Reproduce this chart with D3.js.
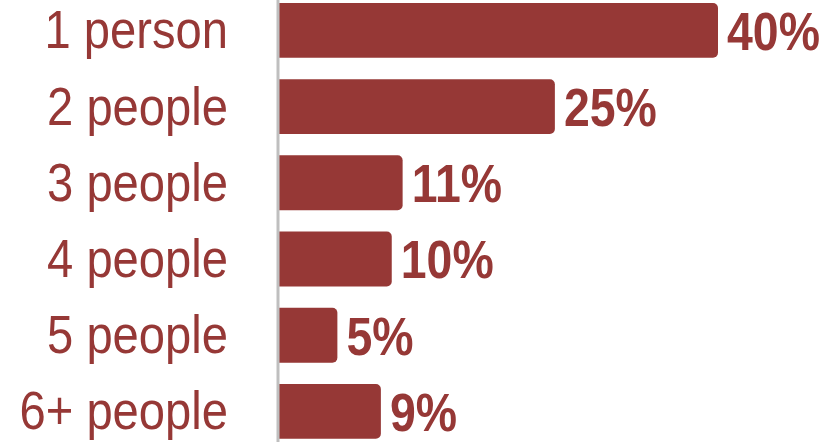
<!DOCTYPE html>
<html>
<head>
<meta charset="utf-8">
<script src="https://cdn.jsdelivr.net/npm/d3@7"></script>
<style>
  html, body { margin: 0; padding: 0; background: #fff; }
  svg { display: block; }
</style>
</head>
<body>
<svg id="chart" width="838" height="442"></svg>
<script>
// Household size distribution
const categories = ["1 person", "2 people", "3 people", "4 people", "5 people", "6+ people"];
const shares = [40, 25, 11, 10, 5, 9];
const valueLabels = ["40%", "25%", "11%", "10%", "5%", "9%"];

const W = 838, H = 442;
const barColor = "#963836";
const axisX = 278;
const labelSqueeze = 0.89; // horizontal squeeze for a condensed look
const valueSqueeze = 0.86;

const svg = d3.select("#chart");

const x = d3.scaleLinear().domain([0, 40]).range([283, 718]);
const y = d3.scaleBand()
  .domain(categories)
  .range([-7.7, 449.5])
  .paddingInner(0.28)
  .paddingOuter(0.14);

// Bars with rounded right-hand corners
const r = 5;
function barPath(d, i) {
  const x0 = axisX, x1 = x(shares[i]);
  const y0 = y(d), h = y.bandwidth();
  const p = d3.path();
  p.moveTo(x0, y0);
  p.lineTo(x1 - r, y0);
  p.arcTo(x1, y0, x1, y0 + r, r);
  p.lineTo(x1, y0 + h - r);
  p.arcTo(x1, y0 + h, x1 - r, y0 + h, r);
  p.lineTo(x0, y0 + h);
  p.closePath();
  return p.toString();
}

svg.append("g")
  .selectAll("path")
  .data(categories)
  .join("path")
  .attr("d", barPath)
  .attr("fill", barColor);

// Category axis line
svg.append("line")
  .attr("x1", axisX).attr("x2", axisX)
  .attr("y1", 0).attr("y2", H)
  .attr("stroke", "#bfbfbf")
  .attr("stroke-width", 3);

// Category labels
svg.append("g")
  .selectAll("text")
  .data(categories)
  .join("text")
  .attr("transform", d => `translate(228,${y(d) + y.bandwidth() / 2}) scale(${labelSqueeze},1)`)
  .attr("dy", "0.34em")
  .attr("text-anchor", "end")
  .attr("font-family", "'Liberation Sans', Arial, sans-serif")
  .attr("font-size", 53)
  .attr("fill", barColor)
  .text(d => d);

// Value labels
svg.append("g")
  .selectAll("text")
  .data(categories)
  .join("text")
  .attr("transform", (d, i) => `translate(${x(shares[i]) + 9},${y(d) + y.bandwidth() / 2}) scale(${valueSqueeze},1)`)
  .attr("dy", "0.36em")
  .attr("font-family", "'Liberation Sans', Arial, sans-serif")
  .attr("font-weight", "bold")
  .attr("font-size", 54)
  .attr("fill", barColor)
  .text((d, i) => valueLabels[i]);
</script>
</body>
</html>
